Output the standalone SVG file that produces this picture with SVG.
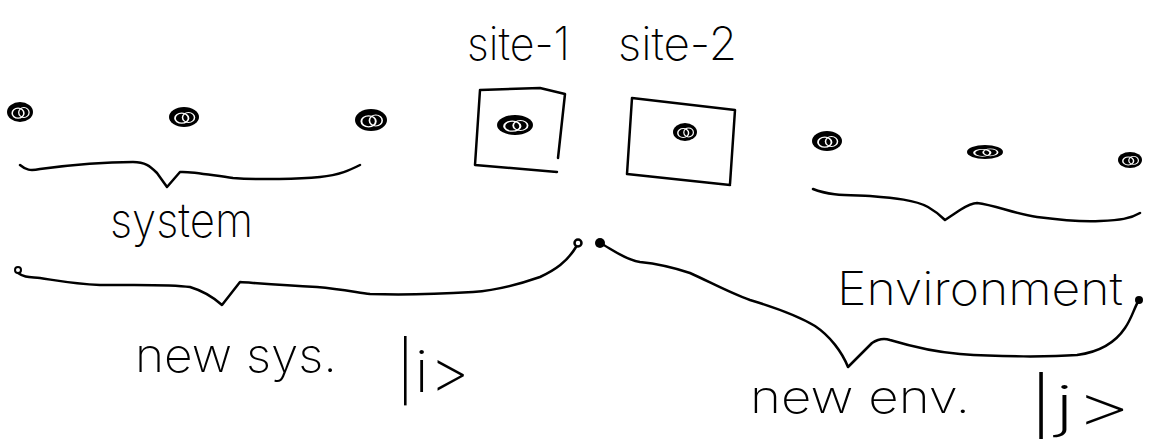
<svg xmlns="http://www.w3.org/2000/svg" width="1151" height="444" viewBox="0 0 1151 444">
  <style>
    .ink { fill: none; stroke: #000; stroke-width: 2.5; stroke-linecap: round; stroke-linejoin: round; }
    .hand { font-family: Inter, "Open Sans", "DejaVu Sans", sans-serif; font-weight: 250; fill: #000; }
  </style>
  <defs>
    <!-- a small scribbled site marker, unit size, centred on 0,0 -->
    <g id="blob">
      <ellipse cx="0" cy="0" rx="1" ry="1" fill="#000"/>
      <ellipse cx="-0.15" cy="0.12" rx="0.45" ry="0.5" fill="none" stroke="#fff" stroke-width="0.12"/>
      <ellipse cx="0.3" cy="0.05" rx="0.4" ry="0.5" fill="none" stroke="#fff" stroke-width="0.1"/>
    </g>
  </defs>
  <rect width="1151" height="444" fill="#fff"/>

  <!-- site markers -->
  <g id="sites">
    <g id="s1"><use href="#blob" transform="translate(20,112) scale(13,10)"/></g>
    <g id="s2"><use href="#blob" transform="translate(184,117) scale(15,10)"/></g>
    <g id="s3"><use href="#blob" transform="translate(371,120) scale(16,11)"/></g>
    <g id="s4"><use href="#blob" transform="translate(515,125) scale(18,10)"/></g>
    <g id="s5"><use href="#blob" transform="translate(685,132) scale(12,9)"/></g>
    <g id="s6"><use href="#blob" transform="translate(827,141) scale(15,10)"/></g>
    <g id="s7"><use href="#blob" transform="translate(985,152) scale(18,7)"/></g>
    <g id="s8"><use href="#blob" transform="translate(1130,160) scale(12,8)"/></g>
  </g>

  <!-- boxed sites -->
  <g id="site-1">
    <path class="ink" d="M480,90 L540,88 L565,94 L558,158 M480,90 L475,165 L557,172"/>
    <text class="hand" x="467" y="60" font-size="46" textLength="103" lengthAdjust="spacingAndGlyphs">site-1</text>
  </g>
  <g id="site-2">
    <path class="ink" d="M632,98 L735,110 L730,184 M632,98 L627,174 L730,185"/>
    <text class="hand" x="618" y="60" font-size="46" textLength="119" lengthAdjust="spacingAndGlyphs">site-2</text>
  </g>

  <!-- labels -->
  <g id="system">
    <text class="hand" x="110" y="237" font-size="48" textLength="143" lengthAdjust="spacingAndGlyphs">system</text>
  </g>
  <g id="environment">
    <text class="hand" x="837" y="305" font-size="46" textLength="286" lengthAdjust="spacingAndGlyphs">Environment</text>
  </g>
  <g id="new-sys">
    <text class="hand" x="135" y="372" font-size="48" textLength="202" lengthAdjust="spacingAndGlyphs">new sys.</text>
    <text class="hand" x="396" y="392" font-size="58" textLength="74" lengthAdjust="spacingAndGlyphs">|i&gt;</text>
  </g>
  <g id="new-env">
    <text class="hand" x="750" y="413" font-size="46" textLength="220" lengthAdjust="spacingAndGlyphs">new env.</text>
    <text class="hand" x="1028" y="426" font-size="56" textLength="104" lengthAdjust="spacingAndGlyphs">|j&gt;</text>
  </g>

  <!-- braces -->
  <g id="connectors">
    <path class="ink" d="M20,165 C26,170 30,171 40,169 C70,165 110,162 133,162 C145,162 150,166 157,173 L167,187 L180,172 C190,171 210,175 233,178 C260,180 300,179 320,177 C340,175 350,170 360,165"/>
    <path class="ink" d="M813,189 C830,196 850,195 870,196 C895,198 915,200 928,207 C935,211 940,215 945,220 L960,210 C968,205 972,203 977,203 C995,205 1015,214 1037,217 C1060,220 1083,222 1100,221 C1120,220 1130,219 1140,213"/>
    <path class="ink" d="M18,273 C25,278 30,277 40,278 C60,281 75,284 100,285 C140,285 170,284 190,287 C200,290 212,296 222,305 L240,282 C255,283 280,285 317,287 C340,289 355,292 370,294 C400,295 440,294 473,292 C500,290 520,284 540,277 C555,270 567,262 576,247"/>
    <circle cx="18" cy="270" r="3" fill="#fff" stroke="#000" stroke-width="2"/>
    <circle cx="578" cy="243" r="3.5" fill="#fff" stroke="#000" stroke-width="2.5"/>
    <path class="ink" d="M600,243 C610,248 625,260 640,262 C660,264 675,268 690,273 C710,282 730,293 750,300 C770,306 795,314 815,326 C830,336 842,352 848,367 L872,343 C878,339 884,338 890,340 C910,346 935,352 960,354 C1000,357 1050,357 1077,355 C1100,352 1115,343 1125,328 C1132,318 1134,308 1139,300"/>
    <circle cx="600" cy="243" r="5" fill="#000"/>
    <circle cx="1139" cy="300" r="4" fill="#000"/>
  </g>
</svg>
